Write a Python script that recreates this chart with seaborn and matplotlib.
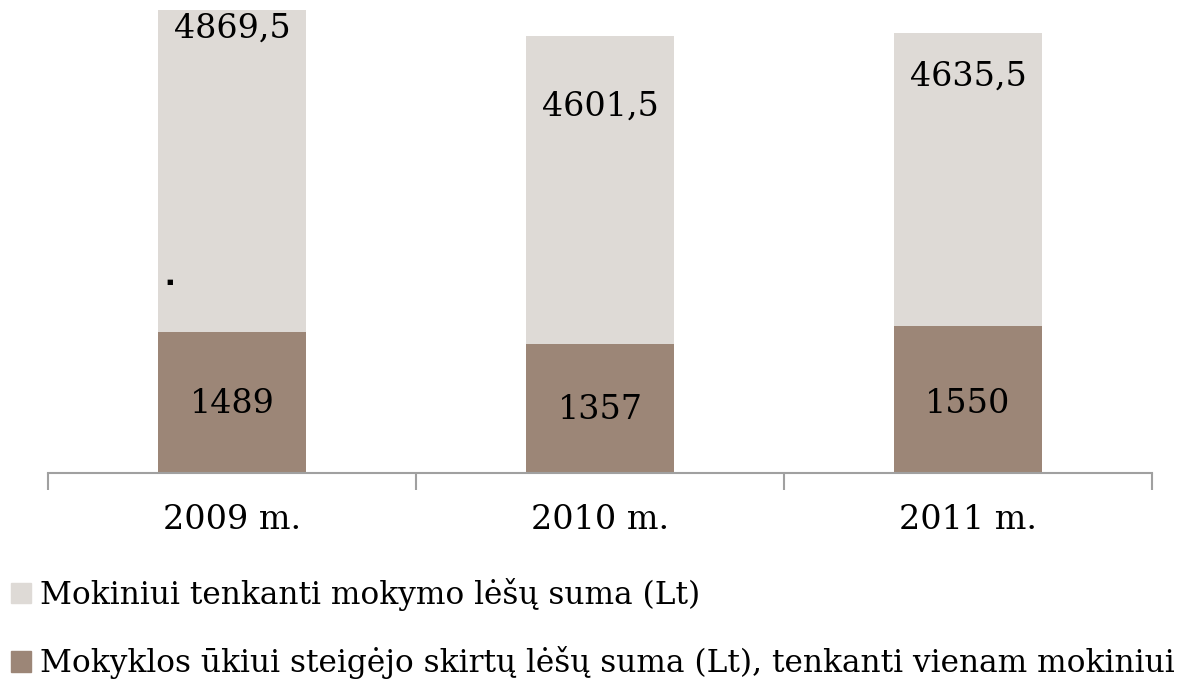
import matplotlib
matplotlib.use("Agg")
import matplotlib.pyplot as plt
import matplotlib.patches as mpatches
import seaborn as sns

# Duomenys
metai = ["2009 m.", "2010 m.", "2011 m."]
mokymo_lesos = [4869.5, 4601.5, 4635.5]
ukio_lesos = [1489, 1357, 1550]
mokymo_zymes = ["4869,5", "4601,5", "4635,5"]
ukio_zymes = ["1489", "1357", "1550"]
serija_1 = "Mokiniui tenkanti mokymo lėšų suma (Lt)"
serija_2 = "Mokyklos ūkiui steigėjo skirtų lėšų suma (Lt), tenkanti vienam mokiniui"

# žymių aukštis (duomenų vienetais)
mokymo_zymiu_y = [4683, 3858, 4175]
ukio_zymiu_y = [729, 666, 729]

sviesi = "#DEDAD6"
tamsi = "#9C8677"

sns.set_style("white")
plt.rcParams["font.family"] = ["DejaVu Serif"]
plt.rcParams["text.color"] = "black"
plt.rcParams["xtick.color"] = "black"

fig = plt.figure(figsize=(11.84, 6.81), dpi=100)
ax = fig.add_axes([48 / 1184, 208 / 681, 1104 / 1184, 473 / 681])

sns.barplot(x=metai, y=mokymo_lesos, color=sviesi, saturation=1, width=0.4, linewidth=0, ax=ax)
sns.barplot(x=metai, y=ukio_lesos, color=tamsi, saturation=1, width=0.4, linewidth=0, ax=ax)

for i in range(len(metai)):
    ax.text(i, mokymo_zymiu_y[i], mokymo_zymes[i], ha="center", va="center", fontsize=24)
    ax.text(i, ukio_zymiu_y[i], ukio_zymes[i], ha="center", va="center", fontsize=24)

# pasiklydęs taškas originale
ax.text(-0.17, 2008, "■", fontsize=5, ha="center", va="center", family="DejaVu Sans")

ax.set_xlim(-0.5, 2.5)
ax.set_ylim(0, 4980)
ax.set_yticks([])
ax.set_xticks([-0.5, 0.5, 1.5, 2.5], minor=True)
ax.tick_params(axis="x", which="major", bottom=False, pad=19, labelsize=24, labelcolor="black")
ax.tick_params(axis="x", which="minor", bottom=True, length=12, width=1.5, color="#A0A0A0", direction="out")
for s in ["top", "right", "left"]:
    ax.spines[s].set_visible(False)
ax.spines["bottom"].set_color("#A0A0A0")
ax.spines["bottom"].set_linewidth(1.5)

h1 = mpatches.Patch(color=sviesi, label=serija_1)
h2 = mpatches.Patch(color=tamsi, label=serija_2)
fig.legend(handles=[h1, h2], loc="upper left", bbox_to_anchor=(11 / 1184, 1 - 578 / 681),
           frameon=False, fontsize=22.5, handlelength=0.64, handleheight=0.64,
           handletextpad=0.29, labelspacing=1.13, borderaxespad=0, borderpad=0)

fig.savefig("out.png", dpi=100)
